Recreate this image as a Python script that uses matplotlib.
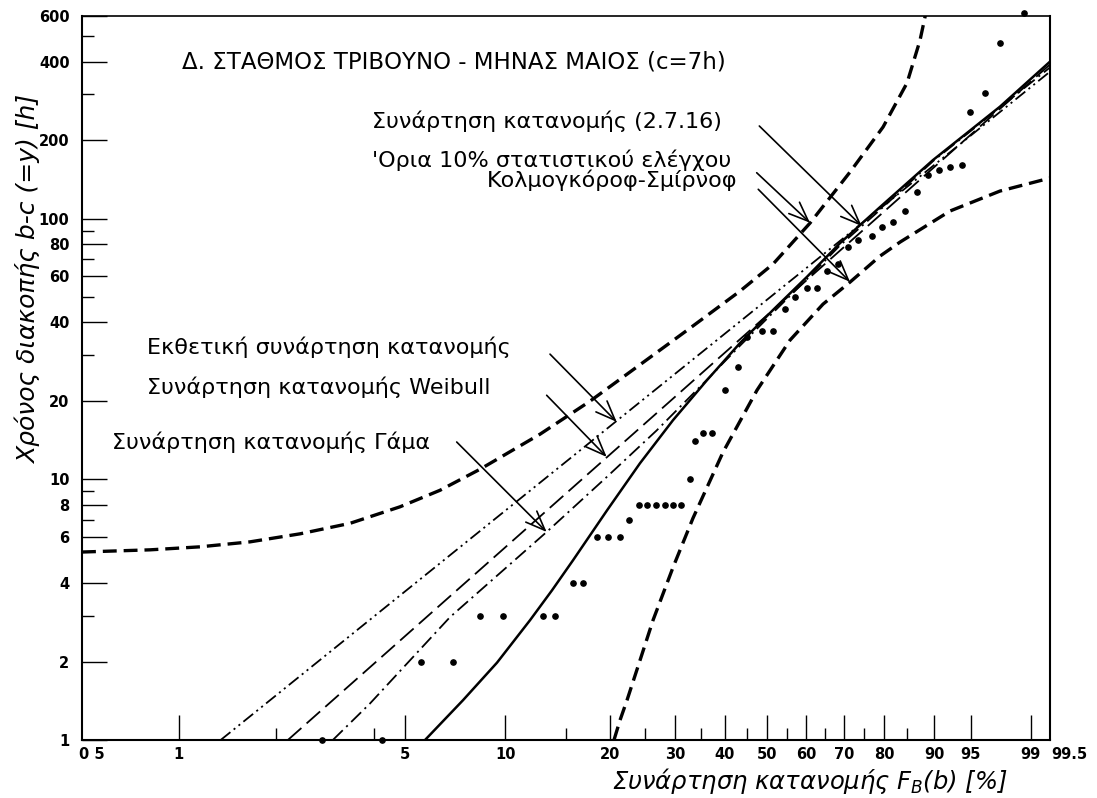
import numpy as np
import matplotlib
matplotlib.use("Agg")
import matplotlib.pyplot as plt
from matplotlib.ticker import FixedLocator, NullFormatter, FixedFormatter

plt.rcParams['font.family'] = ['DejaVu Sans']
plt.rcParams['mathtext.fontset'] = 'dejavusans'
plt.rcParams['lines.scale_dashes'] = False

# ---------------- data: F in %, duration b-c in hours ----------------
obs_F = [2.78, 4.25, 5.58, 6.97, 8.40, 9.84, 12.90, 13.97, 15.75, 16.82,
         18.39, 19.82, 21.36, 22.66, 24.08, 25.31, 26.76, 28.26, 29.66, 31.11,
         32.80, 33.77, 35.43, 37.16, 40.04, 43.03, 44.99, 48.62, 51.52, 54.51,
         57.10, 60.17, 62.82, 65.46, 68.52, 71.12, 73.67, 76.99, 79.39, 82.03,
         84.54, 86.88, 89.01, 90.83, 92.43, 93.97, 94.92, 96.38, 97.52, 98.77]
obs_y = [1, 1, 2, 2, 3, 3, 3, 3, 4, 4,
         6, 6, 6, 7, 8, 8, 8, 8, 8, 8,
         10, 14, 15, 15, 22, 27, 35, 37, 37, 45,
         50, 54, 54, 63, 67, 78, 83, 86, 93, 97,
         107, 127, 147, 154, 158, 160, 257, 302, 473, 613]

# exponential distribution function
exp_F = [1.35, 99.5]
exp_y = [1.0, 366.0]

# Weibull distribution function
weib_F = [2.18, 99.5]
weib_y = [1.0, 390.0]

# Gamma distribution function
gamma_F = [3.00, 3.90, 6.83, 13.22, 19.62, 26.87, 36.1, 43.4, 51.4, 60.2,
           69.0, 79.0, 89.8, 97.5, 99.5]
gamma_y = [1.0, 1.38, 2.96, 6.28, 10.2, 15.4, 24.0, 32.5, 43.5, 58.5,
           79.0, 108.0, 166.0, 266.0, 380.0]

# distribution function (2.7.16)
eq_F = [5.74, 7.47, 9.445, 11.82, 13.70, 15.75, 19.66, 24.23, 29.66, 36.19,
        43.43, 51.44, 60.25, 68.96, 78.99, 89.81, 97.52, 99.5]
eq_y = [1.0, 1.42, 1.98, 2.88, 3.75, 4.89, 7.60, 11.52, 16.85, 24.0,
        33.3, 44.6, 59.8, 80.5, 110.7, 167.7, 268.7, 400.0]

# Kolmogorov-Smirnov 10% limits
ks_up_F = [0.5, 0.8144, 1.164, 1.665, 2.376, 3.387, 4.817, 6.372, 8.402, 12.639,
           17.606, 24.233, 32.799, 43.426, 51.443, 61.043, 71.55, 79.70, 84.96, 87.50,
           88.60, 88.955]
ks_up_y = [5.26, 5.363, 5.507, 5.755, 6.177, 6.777, 7.842, 9.075, 10.924, 14.887,
           19.93, 27.51, 37.98, 52.68, 66.90, 96.1, 150.8, 224.5, 331.3, 482.4,
           617.8, 690.0]
ks_lo_F = [20.56, 21.36, 22.33, 24.23, 26.27, 29.66, 33.38, 39.60, 47.47, 55.80,
           64.48, 71.55, 78.99, 83.49, 92.43, 97.52, 99.5]
ks_lo_y = [1.0, 1.19, 1.42, 2.02, 2.88, 4.59, 7.09, 12.70, 21.96, 34.17,
           46.96, 57.05, 71.80, 81.23, 106.9, 127.5, 143.0]

# axis ticks
x_major = [1, 5, 10, 20, 30, 40, 50, 60, 70, 80, 90, 95, 99]
x_major_labels = ['1', '5', '10', '20', '30', '40', '50', '60', '70', '80', '90', '95', '99']
x_minor = [2, 4, 15, 25, 35, 45, 55, 65, 75, 85]
y_major = [1, 2, 4, 6, 8, 10, 20, 40, 60, 80, 100, 200, 400, 600]
y_minor = [3, 7, 9, 30, 50, 70, 90, 300, 500]


# probability paper: u = log10(-ln(1 - F))
def fwd(F):
    p = np.clip(np.asarray(F, dtype=float) / 100.0, 1e-9, 1 - 1e-9)
    return np.log10(-np.log1p(-p))


def inv(u):
    return 100.0 * (-np.expm1(-10.0 ** np.asarray(u, dtype=float)))


W, H = 1097, 798
fig = plt.figure(figsize=(W / 100, H / 100), dpi=100)
L, R, T, B = 82, 1050, 15.7, 740
ax = fig.add_axes([L / W, 1 - B / H, (R - L) / W, (B - T) / H])

ax.set_yscale('log')
ax.set_xscale('function', functions=(fwd, inv))
ax.set_xlim(0.5, 99.5)
ax.set_ylim(1, 600)

# curves
ax.plot(ks_up_F, ks_up_y, color='black', lw=2.4, dashes=(10, 5))
ax.plot(ks_lo_F, ks_lo_y, color='black', lw=2.4, dashes=(10, 5))
ax.plot(exp_F, exp_y, color='black', lw=1.3, dashes=(9, 3, 1.5, 3, 1.5, 3))
ax.plot(weib_F, weib_y, color='black', lw=1.3, dashes=(13, 5))
ax.plot(gamma_F, gamma_y, color='black', lw=1.3, dashes=(10, 3.5, 1.5, 3.5))
ax.plot(eq_F, eq_y, color='black', lw=1.8, solid_capstyle='butt')
ax.plot(obs_F, obs_y, 'o', color='black', ms=3.8, clip_on=False)

# axes frame and ticks
for s in ax.spines.values():
    s.set_linewidth(1.5)
ax.spines['top'].set_linewidth(1.2)

ax.xaxis.set_major_locator(FixedLocator(x_major))
ax.xaxis.set_major_formatter(FixedFormatter(x_major_labels))
ax.xaxis.set_minor_locator(FixedLocator(x_minor))
ax.xaxis.set_minor_formatter(NullFormatter())
ax.yaxis.set_major_locator(FixedLocator(y_major))
ax.yaxis.set_major_formatter(FixedFormatter([str(v) for v in y_major]))
ax.yaxis.set_minor_locator(FixedLocator(y_minor))
ax.yaxis.set_minor_formatter(NullFormatter())

tick_font = dict(fontsize=10.5, fontweight='bold')
ax.tick_params(axis='both', which='major', direction='in', length=18, width=1.0)
ax.tick_params(axis='both', which='minor', direction='in', length=8.5, width=1.0)
ax.tick_params(axis='x', which='major', pad=5)
ax.tick_params(axis='y', which='major', pad=9)
for lab in ax.get_xticklabels() + ax.get_yticklabels():
    lab.set_fontsize(10.5)
    lab.set_fontweight('bold')

ax.annotate('0 5', xy=(0.5, 0), xycoords=('data', 'axes fraction'),
            xytext=(7, -5), textcoords='offset points', ha='center', va='top', **tick_font)
ax.annotate('99.5', xy=(99.5, 0), xycoords=('data', 'axes fraction'),
            xytext=(14, -5), textcoords='offset points', ha='center', va='top', **tick_font)

# axis titles
fig.text(810 / W, 1 - 781 / H, 'Συνάρτηση κατανομής $F_B$(b) [%]', ha='center', va='center',
         fontsize=17.5, style='italic')
fig.text(28 / W, 1 - 279 / H, 'Χρόνος διακοπής b-c (=y) [h]', ha='center', va='center',
         fontsize=18, style='italic', rotation=90)

# annotations
txt = dict(fontsize=16, color='black', va='center')
fig.text(182 / W, 1 - 62 / H, 'Δ. ΣΤΑΘΜΟΣ ΤΡΙΒΟΥΝΟ - ΜΗΝΑΣ ΜΑΙΟΣ (c=7h)', ha='left',
         fontsize=16.5, color='black', va='center')
fig.text(372 / W, 1 - 121 / H, 'Συνάρτηση κατανομής (2.7.16)', ha='left', **txt)
fig.text(372 / W, 1 - 160 / H, "'Ορια 10% στατιστικού ελέγχου", ha='left', **txt)
fig.text(737 / W, 1 - 180 / H, 'Κολμογκόροφ-Σμίρνοφ', ha='right', **txt)
fig.text(147 / W, 1 - 347 / H, 'Εκθετική συνάρτηση κατανομής', ha='left', **txt)
fig.text(147 / W, 1 - 387 / H, 'Συνάρτηση κατανομής Weibull', ha='left', **txt)
fig.text(112 / W, 1 - 442 / H, 'Συνάρτηση κατανομής Γάμα', ha='left', **txt)

arrow = dict(arrowstyle='->,head_length=0.7,head_width=0.28', lw=1.2, color='black',
             shrinkA=0, shrinkB=0, mutation_scale=20)
arrows = [((48.04, 226.5), (74.53, 93.6)),
          ((47.40, 149.9), (61.04, 96.4)),
          ((47.78, 129.5), (71.55, 57.2)),
          ((13.52, 30.2), (20.92, 16.6)),
          ((13.22, 21.0), (19.62, 12.18)),
          ((7.155, 13.9), (13.22, 6.28))]
for start, tip in arrows:
    ax.annotate('', xy=tip, xytext=start, arrowprops=arrow)

fig.savefig('out.png', dpi=100)
